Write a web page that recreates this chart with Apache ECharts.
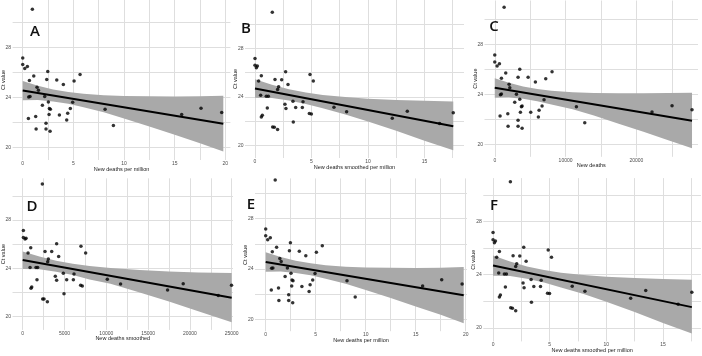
<!DOCTYPE html>
<html>
<head>
  <meta charset="utf-8">
</head>
<body style="margin: 0; background: #fff">
  <div id="container" style="position: relative; width: 702px; height: 356px"></div>
  <script src="https://cdn.jsdelivr.net/npm/echarts@6/dist/echarts.min.js"></script>
  <script>
    // A / E : new deaths per million vs Ct value
    var perMillionX = [0.95, 0, 0, 0.2, 0.46, 0.66, 1.09, 2.47, 2.37, 3.36, 4.01, 5.07, 5.66, 1.41, 1.55, 0.72, 0.59, 2.17, 2.53, 1.94,
      2.63, 2.73, 4.93, 4.7, 4.44, 3.62, 2.6, 1.28, 0.56, 4.34, 2.3, 1.32, 2.3, 2.7, 8.13, 8.95, 15.69, 17.6, 19.64];
    var perMillionY = [31.07, 27.17, 26.64, 26.32, 26.48, 25.36, 25.73, 26.08, 25.44, 25.41, 25.04, 25.33, 25.84, 24.83, 24.59, 24.08, 24.05, 24.08, 23.65, 23.39,
      23.12, 23.07, 23.63, 23.12, 22.75, 22.61, 22.64, 22.48, 22.32, 22.21, 21.95, 21.49, 21.49, 21.31, 23.07, 21.76, 22.64, 23.15, 22.8];
    var perMillionFitX = [0, 19.8];
    var perMillionFitY = [24.56, 21.9];
    var perMillionBandX = [0, 1.5, 3, 4.5, 6, 8, 10, 12.5, 15, 17.5, 19.8];
    var perMillionBandHi = [25.33, 24.95, 24.65, 24.45, 24.3, 24.18, 24.12, 24.1, 24.08, 24.1, 24.15];
    var perMillionBandLo = [23.78, 23.8, 23.68, 23.5, 23.22, 22.82, 22.32, 21.68, 21.02, 20.35, 19.68];

    // B / F : new deaths smoothed per million
    var smoothMillionX = [1.53, 0, 0, 0.12, 0.21, 2.71, 4.87, 0.56, 0.32, 1.77, 2.36, 5.16, 2.92, 2.09, 2.0, 0.5, 1.0, 1.18, 3.36, 4.25,
      2.65, 1.09, 2.74, 3.6, 4.19, 4.81, 4.99, 0.65, 0.56, 3.39, 1.56, 1.71, 2.0, 6.99, 8.11, 12.15, 13.48, 16.34, 17.55];
    var smoothMillionY = [30.98, 27.17, 26.62, 26.4, 26.54, 26.07, 25.85, 25.74, 25.32, 25.43, 25.41, 25.32, 25.02, 24.83, 24.61, 24.14, 24.06, 24.06, 23.64, 23.59,
      23.39, 23.09, 23.03, 23.12, 23.12, 22.62, 22.59, 22.48, 22.34, 21.93, 21.52, 21.49, 21.3, 23.14, 22.76, 22.23, 22.81, 21.79, 22.68];
    var smoothMillionFitX = [0, 17.55];
    var smoothMillionFitY = [24.69, 21.57];
    var smoothMillionBandX = [0, 1.5, 3, 4.5, 6, 8, 10, 12.5, 15, 17.55];
    var smoothMillionBandHi = [25.45, 25.0, 24.62, 24.35, 24.15, 23.98, 23.85, 23.75, 23.68, 23.62];
    var smoothMillionBandLo = [23.92, 23.9, 23.7, 23.42, 23.05, 22.55, 21.97, 21.2, 20.38, 19.6];

    // C : new deaths
    var deathsX = [1320, 0, 0, 330, 660, 1550, 3530, 940, 3290, 4710, 7200, 8090, 5740, 2020, 2120, 940, 800, 3060, 3530, 6960,
      2820, 3860, 3760, 6680, 6260, 5080, 3620, 1840, 750, 6160, 3290, 1880, 3290, 3860, 11530, 12710, 22210, 25040, 27860];
    var deathsY = [30.96, 27.15, 26.59, 26.27, 26.45, 25.71, 26.0, 25.28, 25.36, 25.36, 25.25, 25.81, 24.99, 24.8, 24.53, 24.03, 23.97, 24.0, 23.6, 23.57,
      23.36, 23.07, 23.01, 23.07, 22.72, 22.56, 22.56, 22.45, 22.27, 22.19, 21.92, 21.44, 21.44, 21.28, 23.01, 21.73, 22.59, 23.09, 22.77];
    var deathsFitX = [0, 27860];
    var deathsFitY = [24.53, 21.89];
    var deathsBandX = [0, 2000, 4000, 6000, 8000, 11000, 14000, 17500, 21000, 24500, 27860];
    var deathsBandHi = [25.28, 24.92, 24.62, 24.42, 24.28, 24.16, 24.1, 24.08, 24.08, 24.1, 24.13];
    var deathsBandLo = [23.72, 23.75, 23.65, 23.45, 23.18, 22.8, 22.3, 21.65, 21.0, 20.32, 19.68];

    // D : new deaths smoothed
    var smoothDeathsX = [2350, 80, 80, 280, 400, 4060, 6970, 960, 640, 2670, 3470, 7530, 4300, 3070, 2990, 880, 1590, 1790, 4860, 6140,
      3900, 1710, 4060, 5260, 6060, 6930, 7130, 1080, 990, 4940, 2390, 2550, 2950, 10120, 11710, 17330, 19200, 23390, 24980];
    var smoothDeathsY = [30.98, 27.12, 26.54, 26.43, 26.48, 26.04, 25.82, 25.71, 25.27, 25.38, 25.38, 25.27, 24.97, 24.77, 24.55, 24.06, 24.06, 24.06, 23.59, 23.53,
      23.34, 23.06, 23.01, 23.06, 23.06, 22.59, 22.54, 22.46, 22.34, 21.9, 21.46, 21.46, 21.24, 23.09, 22.7, 22.21, 22.73, 21.74, 22.59];
    var smoothDeathsFitX = [0, 25000];
    var smoothDeathsFitY = [24.69, 21.57];
    var smoothDeathsBandX = [0, 2000, 4000, 6000, 8000, 10500, 14000, 17500, 21000, 25000];
    var smoothDeathsBandHi = [25.4, 24.98, 24.62, 24.38, 24.18, 24.02, 23.85, 23.74, 23.66, 23.61];
    var smoothDeathsBandLo = [23.95, 23.92, 23.72, 23.45, 23.08, 22.72, 22.0, 21.25, 20.45, 19.53];

    var yGridValues = [20, 22, 24, 26, 28, 30];
    var yLabelValues = [20, 24, 28];

    function zip(a, b) {
      return a.map(function (v, i) { return [v, b[i]]; });
    }

    var panels = [
      { letter: 'A', name: 'New deaths per million', x: perMillionX, y: perMillionY, fitX: perMillionFitX, fitY: perMillionFitY,
        bx: perMillionBandX, hi: perMillionBandHi, lo: perMillionBandLo,
        xTicks: [0, 2.5, 5, 7.5, 10, 12.5, 15, 17.5, 20], xLabels: [0, 5, 10, 15, 20],
        left: 12.6, top: 0, width: 217.8, height: 160, xMin: -1, xMax: 20.5, yMin: 19.0, yMax: 31.8, lx: 30, ly: 27 },
      { letter: 'B', name: 'New deaths smoothed per million', x: smoothMillionX, y: smoothMillionY, fitX: smoothMillionFitX, fitY: smoothMillionFitY,
        bx: smoothMillionBandX, hi: smoothMillionBandHi, lo: smoothMillionBandLo,
        xTicks: [0, 2.5, 5, 7.5, 10, 12.5, 15, 17.5], xLabels: [0, 5, 10, 15],
        left: 245, top: 0, width: 219, height: 158, xMin: -0.885, xMax: 18.5, yMin: 18.95, yMax: 32.0, lx: 241, ly: 24 },
      { letter: 'C', name: 'New deaths', x: deathsX, y: deathsY, fitX: deathsFitX, fitY: deathsFitY,
        bx: deathsBandX, hi: deathsBandHi, lo: deathsBandLo,
        xTicks: [0, 5000, 10000, 15000, 20000, 25000], xLabels: [0, 10000, 20000],
        left: 484.5, top: 0.5, width: 213.5, height: 156.3, xMin: -1450, xMax: 28705, yMin: 19.0, yMax: 31.5, lx: 489, ly: 22 },
      { letter: 'D', name: 'New deaths smoothed', x: smoothDeathsX, y: smoothDeathsY, fitX: smoothDeathsFitX, fitY: smoothDeathsFitY,
        bx: smoothDeathsBandX, hi: smoothDeathsBandHi, lo: smoothDeathsBandLo,
        xTicks: [0, 2500, 5000, 7500, 10000, 12500, 15000, 17500, 20000, 22500, 25000], xLabels: [0, 5000, 10000, 15000, 20000, 25000],
        left: 12.5, top: 178.3, width: 220.5, height: 151.6, xMin: -1220, xMax: 25156, yMin: 18.9, yMax: 31.45, lx: 27, ly: 202 },
      { letter: 'E', name: 'New deaths per million', x: perMillionX, y: perMillionY, fitX: perMillionFitX, fitY: perMillionFitY,
        bx: perMillionBandX, hi: perMillionBandHi, lo: perMillionBandLo,
        xTicks: [0, 2.5, 5, 7.5, 10, 12.5, 15, 17.5, 20], xLabels: [0, 5, 10, 15, 20],
        left: 255, top: 178.4, width: 212, height: 152.8, xMin: -1.07, xMax: 20.13, yMin: 19.05, yMax: 31.2, lx: 246, ly: 200 },
      { letter: 'F', name: 'New deaths smoothed per million', x: smoothMillionX, y: smoothMillionY, fitX: smoothMillionFitX, fitY: smoothMillionFitY,
        bx: smoothMillionBandX, hi: smoothMillionBandHi, lo: smoothMillionBandLo,
        xTicks: [0, 2.5, 5, 7.5, 10, 12.5, 15, 17.5], xLabels: [0, 5, 10, 15],
        left: 483.3, top: 178.1, width: 217.6, height: 163.3, xMin: -0.86, xMax: 18.35, yMin: 19.0, yMax: 31.25, lx: 489, ly: 201 }
    ];

    var gridColor = '#dedede';

    function labelStyle() {
      return { fontFamily: 'Liberation Sans', fontSize: 5, color: '#4d4d4d' };
    }
    function hiddenTick(values) {
      return { show: true, length: 0, customValues: values, lineStyle: { color: 'rgba(0,0,0,0)' } };
    }

    // one chart per panel, stacked on top of each other (transparent canvases)
    panels.forEach(function (p) {
      var dom = document.createElement('div');
      dom.style.cssText = 'position:absolute;left:0;top:0;width:702px;height:356px';
      document.getElementById('container').appendChild(dom);
      var chart = echarts.init(dom);
      chart.setOption({
        animation: false,
        backgroundColor: 'transparent',
        title: [{
          text: p.letter, left: p.lx, top: p.ly, textAlign: 'center', textVerticalAlign: 'middle',
          textStyle: { fontFamily: 'Open Sans', fontWeight: 600, fontSize: 15, color: '#111' }
        }],
        grid: [{ left: p.left, top: p.top, width: p.width, height: p.height, containLabel: false, outerBoundsMode: 'none' }],
        xAxis: [{
          type: 'value', min: p.xMin, max: p.xMax,
          name: p.name, nameLocation: 'middle', nameGap: 6, nameMoveOverlap: false,
          nameTextStyle: { fontFamily: 'Liberation Sans', fontSize: 5.5, color: '#222' },
          axisLine: { show: false, onZero: false },
          axisTick: hiddenTick(p.xTicks),
          axisLabel: Object.assign({ customValues: p.xLabels, margin: 1, formatter: function (v) { return String(v); } }, labelStyle()),
          splitLine: { show: true, lineStyle: { color: gridColor, width: 1 } }
        }],
        yAxis: [{
          type: 'value', min: p.yMin, max: p.yMax,
          name: 'Ct value', nameLocation: 'middle', nameGap: 6.5, nameRotate: 90, nameMoveOverlap: false,
          nameTextStyle: { fontFamily: 'Liberation Sans', fontSize: 5.5, color: '#222' },
          axisLine: { show: false, onZero: false },
          axisTick: hiddenTick(yGridValues),
          axisLabel: Object.assign({ customValues: yLabelValues, margin: 1.5 }, labelStyle()),
          splitLine: { show: true, lineStyle: { color: gridColor, width: 1 } }
        }],
        series: [
          {
            // confidence band: upper edge left to right, lower edge back
            type: 'custom', silent: true, z: 1,
            data: [[p.bx[0], p.hi[0]]],
            renderItem: function (params, api) {
              var pts = [];
              p.bx.forEach(function (x, k) { pts.push(api.coord([x, p.hi[k]])); });
              for (var k = p.bx.length - 1; k >= 0; k--) pts.push(api.coord([p.bx[k], p.lo[k]]));
              return { type: 'polygon', shape: { points: pts }, style: { fill: '#a9a9a9' }, silent: true };
            }
          },
          {
            type: 'line', symbol: 'none', silent: true, z: 3,
            data: zip(p.fitX, p.fitY), lineStyle: { color: '#000', width: 2 }
          },
          {
            type: 'scatter', symbolSize: 3.5, z: 4,
            data: zip(p.x, p.y), itemStyle: { color: '#000' }
          }
        ]
      });
    });
  </script>
</body>
</html>
